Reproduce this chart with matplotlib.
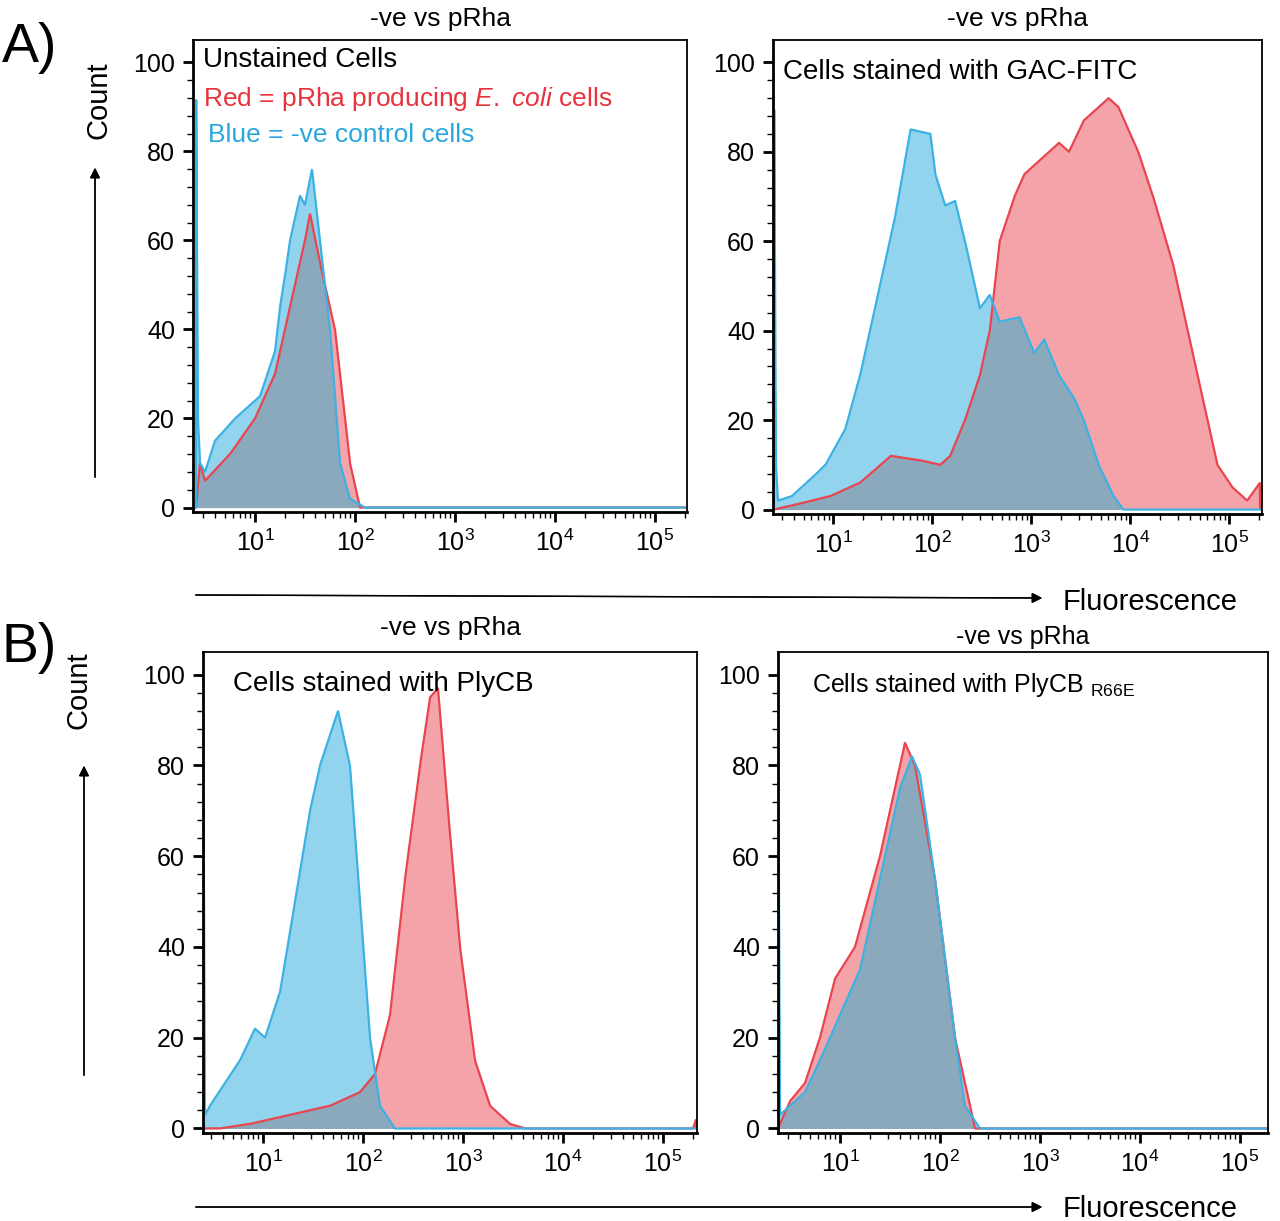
import numpy as np
import matplotlib.pyplot as plt
from matplotlib.ticker import FixedLocator

plt.rcParams['font.family'] = ['Liberation Sans', 'DejaVu Sans']
plt.rcParams['mathtext.fontset'] = 'custom'
plt.rcParams['mathtext.rm'] = 'Liberation Sans'
plt.rcParams['mathtext.it'] = 'Liberation Sans:italic'

# curves: (log10 fluorescence, count)
a1_blue_x = [0.41, 0.43, 0.45, 0.5, 0.6, 0.8, 1.05, 1.2, 1.25, 1.3, 1.35, 1.45, 1.5, 1.57, 1.6, 1.65, 1.75, 1.85, 1.95, 2.1]
a1_blue_y = [100, 20, 10, 8, 15, 20, 25, 35, 45, 52, 60, 70, 68, 76, 70, 60, 40, 10, 2, 0]
a1_red_x = [0.41, 0.45, 0.5, 0.75, 1.0, 1.2, 1.35, 1.5, 1.55, 1.65, 1.8, 1.95, 2.05]
a1_red_y = [0, 10, 6, 12, 20, 30, 45, 60, 66, 55, 40, 10, 0]

a2_blue_x = [0.40, 0.42, 0.44, 0.58, 0.78, 0.92, 1.12, 1.27, 1.47, 1.62, 1.78, 1.98, 2.03, 2.13, 2.23, 2.33, 2.48, 2.58, 2.68, 2.88, 3.03, 3.13, 3.28, 3.43, 3.53, 3.68, 3.83, 3.93]
a2_blue_y = [100, 10, 2, 3, 7, 10, 18, 30, 50, 65, 85, 84, 75, 68, 69, 60, 45, 48, 42, 43, 35, 38, 30, 25, 20, 10, 3, 0]
a2_red_x = [0.40, 0.6, 0.97, 1.27, 1.58, 1.88, 2.08, 2.18, 2.33, 2.48, 2.58, 2.68, 2.83, 2.93, 3.08, 3.28, 3.38, 3.53, 3.78, 3.88, 4.08, 4.23, 4.43, 4.58, 4.73, 4.88, 5.03, 5.18, 5.31]
a2_red_y = [0, 1, 3, 6, 12, 11, 10, 12, 20, 30, 40, 60, 70, 75, 78, 82, 80, 87, 92, 90, 80, 70, 55, 40, 25, 10, 5, 2, 6]

b1_blue_x = [0.40, 0.42, 0.47, 0.62, 0.77, 0.92, 1.02, 1.17, 1.32, 1.47, 1.57, 1.75, 1.87, 1.97, 2.07, 2.17, 2.32]
b1_blue_y = [100, 3, 5, 10, 15, 22, 20, 30, 50, 70, 80, 92, 80, 50, 20, 5, 0]
b1_red_x = [0.40, 0.57, 0.87, 1.27, 1.67, 1.97, 2.12, 2.27, 2.42, 2.57, 2.67, 2.75, 2.85, 2.97, 3.12, 3.27, 3.47, 3.62, 5.3, 5.33]
b1_red_y = [0, 0, 1, 3, 5, 8, 12, 25, 55, 80, 95, 97, 70, 40, 15, 5, 1, 0, 0, 2]

b2_blue_x = [0.38, 0.40, 0.5, 0.65, 0.8, 1.0, 1.2, 1.4, 1.6, 1.72, 1.8, 1.95, 2.15, 2.25, 2.4]
b2_blue_y = [100, 3, 5, 8, 15, 25, 35, 55, 75, 82, 78, 55, 20, 5, 0]
b2_red_x = [0.38, 0.5, 0.65, 0.8, 0.95, 1.15, 1.4, 1.6, 1.65, 1.75, 1.95, 2.15, 2.35]
b2_red_y = [0, 6, 10, 20, 33, 40, 60, 80, 85, 80, 55, 20, 0]

titles = ['-ve vs pRha'] * 4

RED_F, RED_E = '#f4a4a9', '#e8454f'
BLUE_F, BLUE_E = '#92d3ee', '#3bb2e3'
MIX = '#8aa9bd'

fig = plt.figure(figsize=(12.8, 12.21), dpi=100)
W, H = 1280, 1221


def ax_at(x0, y0, x1, y1):
    return fig.add_axes([x0 / W, 1 - y1 / H, (x1 - x0) / W, (y1 - y0) / H])


def panel(ax, bx, by, rx, ry, xlim):
    grid = np.linspace(xlim[0], xlim[1], 2000)
    b = np.interp(grid, bx, by, left=0, right=0)
    r = np.interp(grid, rx, ry, left=0, right=0)
    ax.fill_between(grid, 0, r, color=RED_F, lw=0)
    ax.fill_between(grid, 0, b, color=BLUE_F, lw=0)
    ax.fill_between(grid, 0, np.minimum(b, r), color=MIX, lw=0)
    ax.plot(grid, r, color=RED_E, lw=1.6)
    ax.plot(grid, b, color=BLUE_E, lw=1.6)
    ax.set_xlim(*xlim)
    ax.set_ylim(-1, 105)
    ax.set_yticks([0, 20, 40, 60, 80, 100])
    ax.yaxis.set_minor_locator(FixedLocator(np.arange(0, 101, 4)))
    ax.set_xticks([1, 2, 3, 4, 5])
    ax.set_xticklabels(['$10^{%d}$' % k for k in range(1, 6)])
    minors = [k + np.log10(m) for k in range(0, 6) for m in range(2, 10)]
    ax.xaxis.set_minor_locator(FixedLocator([m for m in minors if xlim[0] < m < xlim[1]]))
    ax.tick_params(which='major', length=7, width=2, labelsize=18, pad=6, colors='black')
    ax.tick_params(which='minor', length=4, width=1)
    for s in ax.spines.values():
        s.set_linewidth(1.3)
    ax.spines['left'].set_linewidth(2)
    ax.spines['bottom'].set_linewidth(2)


ax1 = ax_at(193, 40, 687, 512)
panel(ax1, a1_blue_x, a1_blue_y, a1_red_x, a1_red_y, (0.38, 5.32))
ax1.set_title(titles[0], fontsize=19, pad=10)
ax1.text(0.02, 0.985, 'Unstained Cells', transform=ax1.transAxes, fontsize=20, va='top')
ax1.text(0.02, 0.905, 'Red = pRha producing $\\it{E.\\ coli}$ cells', transform=ax1.transAxes,
         fontsize=19, va='top', color='#e8333d')
ax1.text(0.03, 0.825, 'Blue = -ve control cells', transform=ax1.transAxes, fontsize=19, va='top', color='#2aa8de')

ax2 = ax_at(773, 40, 1262, 514)
panel(ax2, a2_blue_x, a2_blue_y, a2_red_x, a2_red_y, (0.39, 5.33))
ax2.set_title(titles[1], fontsize=19, pad=10)
ax2.text(0.02, 0.96, 'Cells stained with GAC-FITC', transform=ax2.transAxes, fontsize=20, va='top')

ax3 = ax_at(203, 652, 697, 1133)
panel(ax3, b1_blue_x, b1_blue_y, b1_red_x, b1_red_y, (0.40, 5.34))
ax3.set_title(titles[2], fontsize=19, pad=12)
ax3.text(0.06, 0.96, 'Cells stained with PlyCB', transform=ax3.transAxes, fontsize=20, va='top')

ax4 = ax_at(778, 652, 1268, 1133)
panel(ax4, b2_blue_x, b2_blue_y, b2_red_x, b2_red_y, (0.38, 5.28))
ax4.set_title(titles[3], fontsize=18, pad=6)
ax4.text(0.07, 0.96, 'Cells stained with PlyCB $_{\\rm R66E}$', transform=ax4.transAxes, fontsize=18, va='top')

# panel letters, axis arrows
fig.text(2 / W, 1 - 48 / H, 'A)', fontsize=40, va='center')
fig.text(2 / W, 1 - 648 / H, 'B)', fontsize=40, va='center')
fig.text(98 / W, 1 - 100 / H, 'Count', fontsize=21, rotation=90, va='center', ha='center')
fig.text(78 / W, 1 - 690 / H, 'Count', fontsize=21, rotation=90, va='center', ha='center')
arrow = dict(arrowstyle='-|>', color='black', lw=1, mutation_scale=15)
fig.add_artist(plt.annotate('', xy=(95 / W, 1 - 165 / H), xytext=(95 / W, 1 - 480 / H),
                            xycoords='figure fraction', arrowprops=arrow))
fig.add_artist(plt.annotate('', xy=(84 / W, 1 - 763 / H), xytext=(84 / W, 1 - 1078 / H),
                            xycoords='figure fraction', arrowprops=arrow))
fig.add_artist(plt.annotate('', xy=(1045 / W, 1 - 598 / H), xytext=(193 / W, 1 - 595 / H),
                            xycoords='figure fraction', arrowprops=arrow))
fig.add_artist(plt.annotate('', xy=(1045 / W, 1 - 1207 / H), xytext=(193 / W, 1 - 1207 / H),
                            xycoords='figure fraction', arrowprops=arrow))
fig.text(1063 / W, 1 - 602 / H, 'Fluorescence', fontsize=21, va='center')
fig.text(1063 / W, 1 - 1209 / H, 'Fluorescence', fontsize=21, va='center')

fig.savefig('out.png', dpi=100)
